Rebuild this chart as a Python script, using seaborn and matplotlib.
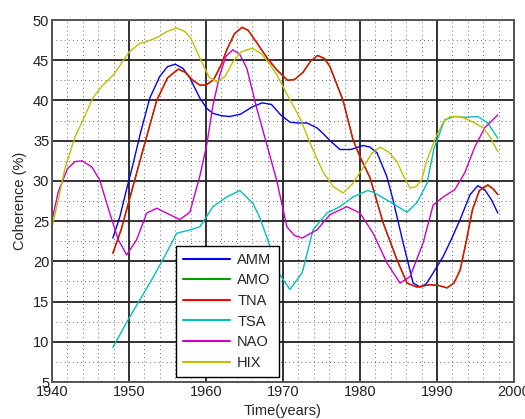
import matplotlib
matplotlib.use("Agg")
import matplotlib.pyplot as plt
import seaborn as sns
import pandas as pd
from matplotlib.ticker import MultipleLocator
from matplotlib.lines import Line2D

sns.set_style("white")
plt.rcParams['font.family'] = ['Liberation Sans', 'DejaVu Sans']

series_names = ["AMM", "AMO", "TNA", "TSA", "NAO", "HIX"]
series_colors = ["#0000ff", "#00a000", "#ff0000", "#00c0c0", "#cc00cc", "#c0c000"]

amm_year = [1947.9, 1948.8, 1949.7, 1950.5, 1951.5, 1952.7, 1954.0, 1955.0, 1956.0, 1957.0,
            1957.9, 1959.2, 1960.1, 1960.9, 1962.0, 1963.1, 1964.5, 1966.0, 1967.3, 1968.5,
            1969.7, 1970.9, 1972.0, 1973.1, 1974.4, 1975.3, 1976.1, 1977.4, 1978.8, 1980.4,
            1981.3, 1982.2, 1982.6, 1983.5, 1984.3, 1985.6, 1986.9, 1987.8, 1988.6, 1989.4,
            1990.8, 1991.8, 1993.0, 1994.3, 1995.3, 1996.2, 1997.1, 1997.9]
amm_val = [22.9, 25.5, 29.0, 32.0, 36.0, 40.3, 43.0, 44.2, 44.5, 44.0,
           42.8, 40.3, 39.0, 38.4, 38.1, 38.0, 38.3, 39.2, 39.7, 39.5,
           38.2, 37.3, 37.2, 37.2, 36.6, 35.8, 35.0, 33.9, 33.9, 34.4,
           34.2, 33.5, 32.6, 30.5, 27.6, 22.3, 17.3, 16.8, 17.2, 18.4,
           20.6, 22.6, 25.2, 28.3, 29.4, 28.9, 27.6, 26.0]

tna_year = [1947.9, 1949.0, 1950.0, 1951.0, 1952.0, 1953.6, 1955.0, 1956.4, 1957.3, 1958.3,
            1959.2, 1960.0, 1961.0, 1962.0, 1962.7, 1963.7, 1964.7, 1965.5, 1967.0, 1968.0,
            1969.2, 1970.6, 1971.5, 1972.6, 1973.6, 1974.5, 1975.4, 1976.1, 1977.8, 1979.1,
            1980.0, 1981.3, 1983.0, 1984.8, 1986.1, 1987.4, 1989.1, 1990.2, 1991.3, 1992.2,
            1993.0, 1993.8, 1994.6, 1995.5, 1996.6, 1997.3, 1997.9]
tna_val = [21.0, 24.0, 27.5, 31.0, 34.5, 40.0, 42.8, 43.9, 43.5, 42.5,
           41.9, 41.9, 42.6, 44.5, 46.3, 48.3, 49.1, 48.7, 46.6, 45.2,
           43.8, 42.5, 42.6, 43.5, 44.9, 45.6, 45.2, 44.2, 40.0, 35.1,
           33.0, 30.4, 24.8, 20.2, 17.3, 16.8, 17.1, 17.0, 16.7, 17.3,
           18.9, 22.5, 26.4, 28.8, 29.5, 29.0, 28.3]

# AMO coincides with TNA in the reference (hidden underneath it)
amo_year = list(tna_year)
amo_val = list(tna_val)

tsa_year = [1947.9, 1950.1, 1952.7, 1954.4, 1956.2, 1957.9, 1959.2, 1960.1, 1960.9, 1962.7,
            1964.4, 1966.1, 1967.0, 1967.9, 1969.4, 1970.9, 1972.5, 1973.9, 1975.7, 1977.4,
            1979.1, 1981.0, 1981.7, 1983.9, 1986.1, 1987.4, 1988.7, 1989.6, 1991.0, 1992.3,
            1993.8, 1995.3, 1996.6, 1997.9]
tsa_val = [9.3, 13.1, 17.3, 20.2, 23.5, 23.9, 24.3, 25.6, 26.8, 28.0,
           28.8, 27.2, 25.4, 23.0, 18.6, 16.5, 18.6, 23.9, 26.0, 26.8,
           28.0, 28.8, 28.6, 27.4, 26.1, 27.3, 29.7, 34.0, 37.6, 38.0,
           37.9, 38.0, 37.2, 35.3]

nao_year = [1940.1, 1940.8, 1942.0, 1943.0, 1943.9, 1945.2, 1946.2, 1947.5, 1948.6, 1949.7,
            1951.0, 1952.3, 1953.6, 1955.3, 1956.6, 1957.9, 1959.2, 1960.1, 1960.9, 1961.8,
            1962.6, 1963.5, 1964.4, 1965.3, 1966.6, 1967.9, 1969.2, 1970.5, 1971.5, 1972.5,
            1974.4, 1976.1, 1978.3, 1980.0, 1981.7, 1983.5, 1985.2, 1986.5, 1988.2, 1989.5,
            1990.8, 1992.3, 1993.6, 1994.9, 1996.2, 1997.9]
nao_val = [25.5, 28.6, 31.5, 32.4, 32.5, 31.7, 30.1, 26.0, 22.7, 20.8,
           22.7, 26.0, 26.6, 25.8, 25.2, 26.1, 30.6, 34.5, 39.4, 43.2,
           45.5, 46.3, 45.7, 44.0, 39.0, 34.5, 30.0, 24.3, 23.2, 22.9,
           23.9, 25.8, 26.8, 26.0, 23.5, 19.8, 17.3, 18.1, 22.3, 27.0,
           28.0, 28.9, 31.0, 34.2, 36.6, 38.2]

hix_year = [1940.0, 1940.8, 1941.7, 1943.0, 1944.0, 1945.3, 1946.5, 1948.0, 1949.0, 1950.0,
            1951.4, 1952.5, 1953.6, 1955.0, 1956.2, 1957.2, 1958.0, 1959.2, 1960.4, 1961.4,
            1962.5, 1963.5, 1964.5, 1966.0, 1967.2, 1968.3, 1969.2, 1970.5, 1972.2, 1973.7,
            1975.2, 1976.5, 1977.8, 1979.0, 1980.3, 1981.5, 1982.6, 1983.7, 1984.8, 1985.7,
            1986.5, 1987.3, 1988.0, 1988.7, 1989.8, 1990.8, 1991.7, 1993.0, 1994.5, 1996.0,
            1997.0, 1997.9]
hix_val = [24.2, 27.6, 31.6, 35.5, 37.5, 40.3, 41.8, 43.2, 44.6, 46.0,
           47.1, 47.4, 47.8, 48.6, 49.0, 48.6, 47.8, 45.3, 42.9, 42.3,
           43.0, 44.8, 46.0, 46.5, 45.8, 44.5, 43.2, 40.8, 37.8, 34.3,
           31.1, 29.3, 28.5, 29.6, 31.5, 33.4, 34.2, 33.6, 32.4, 30.5,
           29.1, 29.3, 30.1, 32.6, 35.3, 37.3, 38.0, 38.0, 37.4, 36.6,
           35.3, 33.6]

x_ticks = [1940, 1950, 1960, 1970, 1980, 1990, 2000]
y_ticks = [5, 10, 15, 20, 25, 30, 35, 40, 45, 50]

years = {"AMM": amm_year, "AMO": amo_year, "TNA": tna_year,
         "TSA": tsa_year, "NAO": nao_year, "HIX": hix_year}
vals = {"AMM": amm_val, "AMO": amo_val, "TNA": tna_val,
        "TSA": tsa_val, "NAO": nao_val, "HIX": hix_val}

frames = []
for name in series_names:
    frames.append(pd.DataFrame({"year": years[name], "value": vals[name], "series": name}))
df = pd.concat(frames, ignore_index=True)

fig = plt.figure(figsize=(5.25, 4.19), dpi=100)
ax = fig.add_axes([52 / 525, 1 - 382 / 419, 462 / 525, 362 / 419])

palette = dict(zip(series_names, series_colors))
sns.lineplot(data=df, x="year", y="value", hue="series", hue_order=series_names,
             palette=palette, estimator=None, sort=False, linewidth=1.0,
             legend=False, ax=ax)

ax.set_xlim(x_ticks[0], x_ticks[-1])
ax.set_ylim(y_ticks[0], y_ticks[-1])
ax.set_xticks(x_ticks)
ax.set_yticks(y_ticks)
ax.xaxis.set_minor_locator(MultipleLocator(2))
ax.yaxis.set_minor_locator(MultipleLocator(2.5))
ax.set_axisbelow(True)
ax.grid(which="major", color="#222222", linewidth=1.3, linestyle="-")
ax.grid(which="minor", color="#333333", linewidth=0.7, linestyle=(0, (0.7, 3.5)))
ax.tick_params(which="both", length=0, labelsize=10.5, colors="#222222", pad=2)
for sp in ax.spines.values():
    sp.set_color("#555555")
    sp.set_linewidth(1.4)

ax.set_xlabel("Time(years)", fontsize=10.5, labelpad=4)
ax.set_ylabel("Coherence (%)", fontsize=10.5, labelpad=4)

handles = [Line2D([0], [0], color=c, linewidth=1.5) for c in series_colors]
leg = ax.legend(handles, series_names, loc="lower left",
                bbox_to_anchor=((176 - 52) / 462, (382 - 377) / 362),
                frameon=True, fancybox=False, framealpha=1, edgecolor="black",
                fontsize=10.5, handlelength=3.2, handletextpad=0.5,
                labelspacing=0.45, borderpad=0.5, borderaxespad=0)
leg.get_frame().set_linewidth(1.0)

fig.savefig("out.png", dpi=100, facecolor="white")
